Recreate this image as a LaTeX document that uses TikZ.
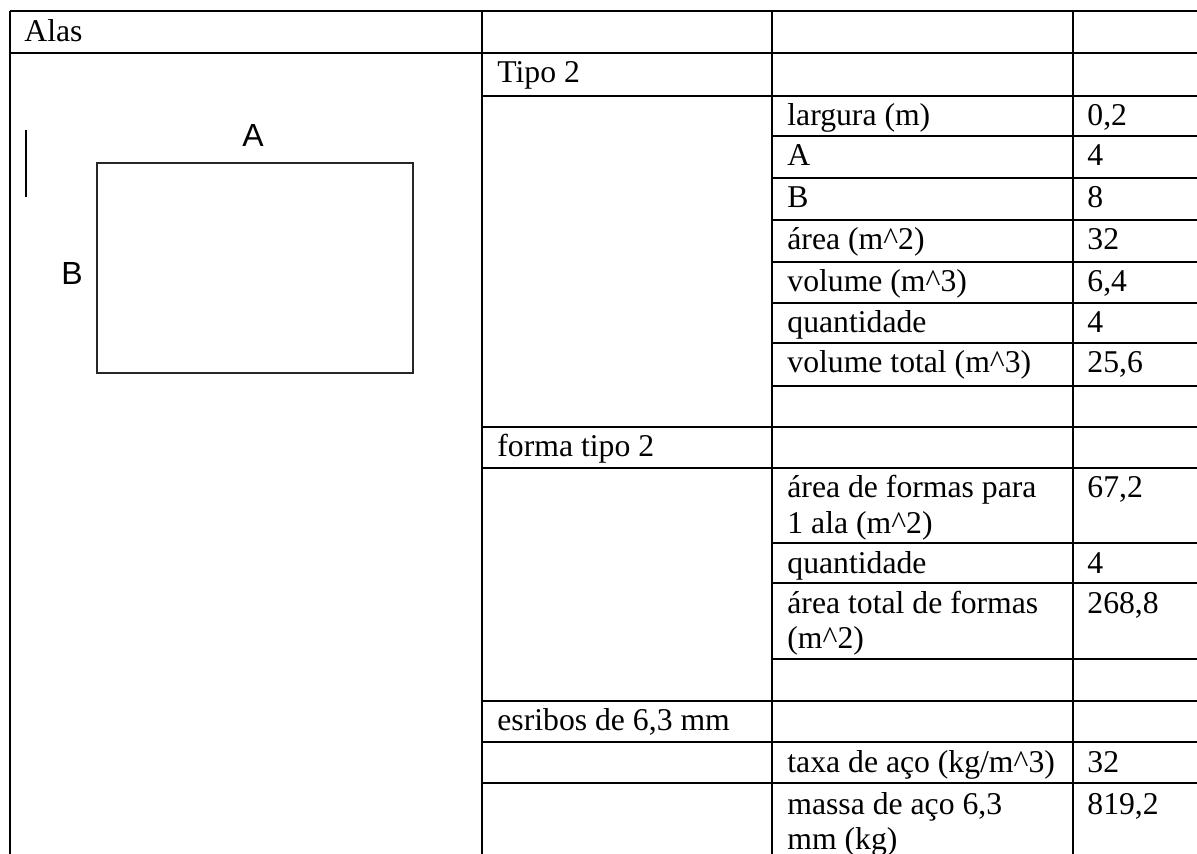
\documentclass[tikz,border=0pt]{standalone}
\usepackage{fontspec}
\setmainfont{Liberation Serif}
\newfontfamily\sketchfont{Liberation Sans}
\newcommand{\hatc}{\textasciicircum}
\begin{document}
\begin{tikzpicture}[x=0.5pt,y=-0.5pt,
  grid/.style={line width=0.7pt,black},
  cell/.style={anchor=base west,inner sep=0pt,font=\fontsize{15.85}{17.5}\selectfont},
  lbl/.style={inner sep=0pt,font=\sketchfont\fontsize{16}{18}\selectfont},
  shapeline/.style={line width=0.85pt,black!85}]
\useasboundingbox (0,0) rectangle (1197,854);
% horizontal grid lines
\foreach \y in {11,53} \draw[grid] (10,\y) -- (1197,\y);
\foreach \y in {96,427,468,701,742,783} \draw[grid] (482,\y) -- (1197,\y);
\foreach \y in {136,178,220,262,303,343,386,543,583,659} \draw[grid] (772,\y) -- (1197,\y);
% vertical grid lines
\foreach \x in {10,482,772,1073} \draw[grid] (\x,11) -- (\x,854);
% sketch
\draw[shapeline] (97,163) rectangle (413,373);
\draw[line width=1.35pt] (26,130) -- (26,197);
\node[lbl] (la) at (253,135) {A};
\node[lbl] (lb) at (72,273) {B};
% texts
\node[cell] (t1) at (24,41.5) {Alas};
\node[cell] (t2) at (497,83) {Tipo 2};
\node[cell] (t3) at (497,457) {forma tipo 2};
\node[cell] (t4) at (497,730) {esribos de 6,3 mm};
% column 3
\node[cell] (c1) at (787,126) {largura (m)};
\node[cell] (c2) at (787,166) {A};
\node[cell] (c3) at (787,208) {B};
\node[cell] (c4) at (787,250) {área (m\hatc2)};
\node[cell] (c5) at (787,292) {volume (m\hatc3)};
\node[cell] (c6) at (787,333) {quantidade};
\node[cell] (c7) at (787,373) {volume total (m\hatc3)};
\node[cell] (c8) at (787,498) {área de formas para};
\node[cell] (c8b) at (787,533) {1 ala (m\hatc2)};
\node[cell] (c9) at (787,573) {quantidade};
\node[cell] (c10) at (787,613) {área total de formas};
\node[cell] (c10b) at (787,648) {(m\hatc2)};
\node[cell] (c11) at (787,772) {taxa de aço (kg/m\hatc3)};
\node[cell] (c12) at (787,814) {massa de aço 6,3};
\node[cell] (c12b) at (787,849) {mm (kg)};
% column 4
\node[cell] (v1) at (1087,126) {0,2};
\node[cell] (v2) at (1087,166) {4};
\node[cell] (v3) at (1087,208) {8};
\node[cell] (v4) at (1087,250) {32};
\node[cell] (v5) at (1087,292) {6,4};
\node[cell] (v6) at (1087,333) {4};
\node[cell] (v7) at (1087,373) {25,6};
\node[cell] (v8) at (1087,498) {67,2};
\node[cell] (v9) at (1087,573) {4};
\node[cell] (v10) at (1087,613) {268,8};
\node[cell] (v11) at (1087,772) {32};
\node[cell] (v12) at (1087,814) {819,2};
\end{tikzpicture}
\end{document}
